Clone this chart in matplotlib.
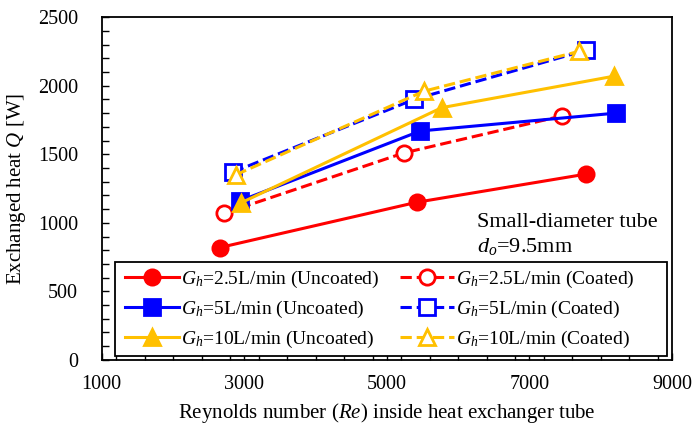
"""
Exchanged heat Q vs Reynolds number for uncoated / coated small-diameter tube.
"""

import matplotlib
import matplotlib.pyplot as plt
import matplotlib.ticker as mticker
from matplotlib.patches import Rectangle

matplotlib.use("Agg")

plt.rcParams["font.family"] = ["Liberation Serif", "DejaVu Serif"]
plt.rcParams["mathtext.fontset"] = "custom"
plt.rcParams["mathtext.rm"] = "Liberation Serif"
plt.rcParams["mathtext.it"] = "Liberation Serif:italic"

# Reynolds number / exchanged heat [W]
RE_25_UNCOATED = [2660, 5420, 7790]
Q_25_UNCOATED = [820, 1150, 1355]
RE_25_COATED = [2720, 5240, 7460]
Q_25_COATED = [1070, 1510, 1780]

RE_5_UNCOATED = [2940, 5470, 8210]
Q_5_UNCOATED = [1160, 1670, 1800]
RE_5_COATED = [2840, 5380, 7800]
Q_5_COATED = [1370, 1900, 2260]

RE_10_UNCOATED = [2950, 5770, 8190]
Q_10_UNCOATED = [1145, 1840, 2070]
RE_10_COATED = [2880, 5520, 7690]
Q_10_COATED = [1350, 1960, 2250]

RED = "#FF0000"
BLUE = "#0000FF"
YELLOW = "#FFC000"


def main() -> None:
    fig = plt.figure(figsize=(6.97, 4.30), dpi=100)
    ax = fig.add_axes([0.146, 0.163, 0.818, 0.797])

    common = dict(linewidth=2.2, markersize=11, markeredgewidth=2.0)

    # uncoated (solid, filled markers) and coated (dashed, open markers)
    ax.plot(RE_25_UNCOATED, Q_25_UNCOATED, "-", color=RED, marker="o",
            label=r"$G_h$=2.5L/min (Uncoated)", **common)
    ax.plot(RE_25_COATED, Q_25_COATED, "--", color=RED, marker="o",
            markerfacecolor="white", label=r"$G_h$=2.5L/min (Coated)", **common)
    ax.plot(RE_5_UNCOATED, Q_5_UNCOATED, "-", color=BLUE, marker="s",
            label=r"$G_h$=5L/min (Uncoated)", **common)
    ax.plot(RE_5_COATED, Q_5_COATED, "--", color=BLUE, marker="s",
            markerfacecolor="white", label=r"$G_h$=5L/min (Coated)", **common)
    ax.plot(RE_10_UNCOATED, Q_10_UNCOATED, "-", color=YELLOW, marker="^",
            label=r"$G_h$=10L/min (Uncoated)", **common)
    ax.plot(RE_10_COATED, Q_10_COATED, "--", color=YELLOW, marker="^",
            markerfacecolor="white", label=r"$G_h$=10L/min (Coated)", **common)

    ax.set_xlim(1000, 9000)
    ax.set_ylim(0, 2500)
    ax.xaxis.set_major_locator(mticker.MultipleLocator(2000, offset=1000))
    ax.xaxis.set_minor_locator(mticker.MultipleLocator(400))
    ax.yaxis.set_major_locator(mticker.MultipleLocator(500))
    ax.yaxis.set_minor_locator(mticker.MultipleLocator(100))
    ax.tick_params(which="both", direction="in", length=5, width=1,
                   labelsize=14.5, color="black")
    ax.tick_params(axis="x", pad=11)
    ax.tick_params(axis="y", pad=17)
    for spine in ax.spines.values():
        spine.set_linewidth(1.3)

    ax.set_xlabel(r"Reynolds number ($Re$) inside heat exchanger tube",
                  fontsize=15, labelpad=5)
    ax.set_ylabel(r"Exchanged heat $Q$ [W]", fontsize=15, labelpad=7)

    ax.text(0.658, 0.402, "Small-diameter tube", transform=ax.transAxes,
            fontsize=16, ha="left", va="center")
    ax.text(0.658, 0.332, r"$d_o$=9.5mm", transform=ax.transAxes,
            fontsize=16, ha="left", va="center")

    # legend box drawn separately so the entries can sit like the original
    ax.add_patch(Rectangle((0.0228, 0.0117), 0.968, 0.274,
                           transform=ax.transAxes, facecolor="white",
                           edgecolor="black", linewidth=1.3, zorder=4))

    handles, labels = ax.get_legend_handles_labels()
    order = [0, 2, 4, 1, 3, 5]
    leg = ax.legend([handles[i] for i in order], [labels[i] for i in order],
                    ncol=2, loc="lower left", mode="expand",
                    bbox_to_anchor=(0.030, 0.0117, 0.915, 0.274),
                    fontsize=14, frameon=False,
                    handlelength=2.8, handletextpad=0.1, columnspacing=1.0,
                    labelspacing=0.45, borderpad=0.3, borderaxespad=0.0)
    leg.set_zorder(5)

    fig.savefig("out.png", dpi=100)
    plt.close(fig)


if __name__ == "__main__":
    main()
